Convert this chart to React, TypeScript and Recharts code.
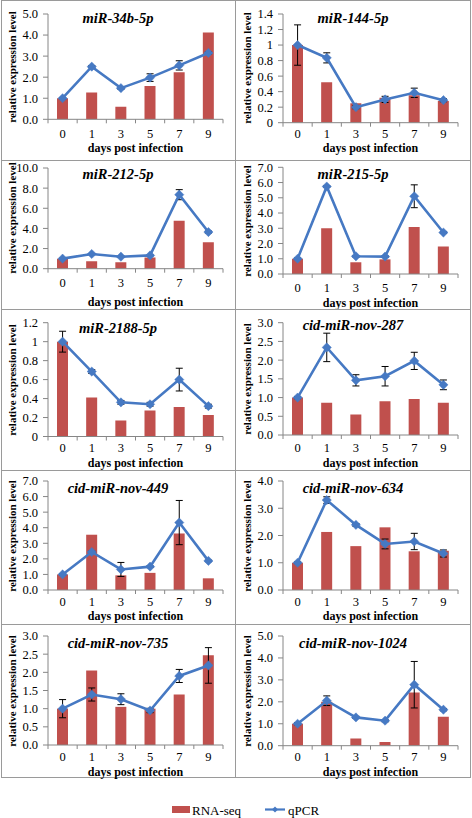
import React from 'react';
import { ComposedChart, Bar, Line, XAxis, YAxis, ErrorBar } from 'recharts';

// ---------- data ----------
const days = ['0', '1', '3', '5', '7', '9'];

const miR34bRnaSeq = [1.0, 1.27, 0.6, 1.58, 2.24, 4.12];
const miR34bQpcr = [1.0, 2.5, 1.48, 1.98, 2.56, 3.15];
const miR34bErr = [0.03, 0.05, 0.05, 0.18, 0.22, 0.05];
const miR34bTicks = [0, 1, 2, 3, 4, 5];

const miR144RnaSeq = [1.0, 0.52, 0.25, 0.32, 0.355, 0.28];
const miR144Qpcr = [1.0, 0.835, 0.2, 0.3, 0.385, 0.29];
const miR144Err = [0.26, 0.065, 0.02, 0.04, 0.06, 0.02];
const miR144Ticks = [0, 0.2, 0.4, 0.6, 0.8, 1, 1.2, 1.4];

const miR212RnaSeq = [1.0, 0.75, 0.63, 1.1, 4.77, 2.62];
const miR212Qpcr = [1.0, 1.46, 1.19, 1.32, 7.35, 3.64];
const miR212Err = [0.05, 0.05, 0.05, 0.05, 0.5, 0.1];
const miR212Ticks = [0, 2, 4, 6, 8, 10];

const miR215RnaSeq = [1.0, 3.0, 0.77, 0.96, 3.08, 1.8];
const miR215Qpcr = [1.0, 5.74, 1.16, 1.14, 5.1, 2.72];
const miR215Err = [0.05, 0.05, 0.05, 0.05, 0.75, 0.05];
const miR215Ticks = [0, 1, 2, 3, 4, 5, 6, 7];

const miR2188RnaSeq = [1.0, 0.41, 0.17, 0.275, 0.31, 0.226];
const miR2188Qpcr = [1.0, 0.685, 0.36, 0.34, 0.6, 0.32];
const miR2188Err = [0.11, 0.02, 0.02, 0.02, 0.12, 0.02];
const miR2188Ticks = [0, 0.2, 0.4, 0.6, 0.8, 1, 1.2];

const nov287RnaSeq = [1.0, 0.86, 0.55, 0.9, 0.96, 0.86];
const nov287Qpcr = [1.0, 2.34, 1.46, 1.57, 1.98, 1.34];
const nov287Err = [0.03, 0.38, 0.15, 0.26, 0.23, 0.13];
const nov287Ticks = [0, 0.5, 1, 1.5, 2, 2.5, 3];

const nov449RnaSeq = [1.0, 3.55, 0.94, 1.1, 3.63, 0.75];
const nov449Qpcr = [1.0, 2.44, 1.32, 1.5, 4.33, 1.87];
const nov449Err = [0.05, 0.05, 0.45, 0.05, 1.42, 0.05];
const nov449Ticks = [0, 1, 2, 3, 4, 5, 6, 7];

const nov634RnaSeq = [1.0, 2.13, 1.61, 2.3, 1.42, 1.44];
const nov634Qpcr = [1.0, 3.3, 2.39, 1.69, 1.78, 1.34];
const nov634Err = [0.03, 0.12, 0.05, 0.18, 0.3, 0.13];
const nov634Ticks = [0, 1, 2, 3, 4];

const nov735RnaSeq = [1.0, 2.05, 1.05, 1.0, 1.39, 2.47];
const nov735Qpcr = [1.0, 1.39, 1.26, 0.95, 1.9, 2.19];
const nov735Err = [0.25, 0.18, 0.15, 0.06, 0.18, 0.49];
const nov735Ticks = [0, 0.5, 1, 1.5, 2, 2.5, 3];

const nov1024RnaSeq = [1.0, 2.0, 0.33, 0.17, 2.42, 1.32];
const nov1024Qpcr = [1.0, 2.05, 1.29, 1.14, 2.78, 1.64];
const nov1024Err = [0.05, 0.22, 0.05, 0.05, 1.06, 0.05];
const nov1024Ticks = [0, 1, 2, 3, 4, 5];

const seriesNames = ['RNA-seq', 'qPCR'];
const yLabelText = 'relative expression level';
const xLabelText = 'days post infection';

type PanelData = {
  title: string;
  rna: number[];
  qpcr: number[];
  err: number[];
  ticks: number[];
  general: boolean;
};

const panels: PanelData[] = [
  { title: 'miR-34b-5p', rna: miR34bRnaSeq, qpcr: miR34bQpcr, err: miR34bErr, ticks: miR34bTicks, general: false },
  { title: 'miR-144-5p', rna: miR144RnaSeq, qpcr: miR144Qpcr, err: miR144Err, ticks: miR144Ticks, general: true },
  { title: 'miR-212-5p', rna: miR212RnaSeq, qpcr: miR212Qpcr, err: miR212Err, ticks: miR212Ticks, general: false },
  { title: 'miR-215-5p', rna: miR215RnaSeq, qpcr: miR215Qpcr, err: miR215Err, ticks: miR215Ticks, general: false },
  { title: 'miR-2188-5p', rna: miR2188RnaSeq, qpcr: miR2188Qpcr, err: miR2188Err, ticks: miR2188Ticks, general: true },
  { title: 'cid-miR-nov-287', rna: nov287RnaSeq, qpcr: nov287Qpcr, err: nov287Err, ticks: nov287Ticks, general: false },
  { title: 'cid-miR-nov-449', rna: nov449RnaSeq, qpcr: nov449Qpcr, err: nov449Err, ticks: nov449Ticks, general: false },
  { title: 'cid-miR-nov-634', rna: nov634RnaSeq, qpcr: nov634Qpcr, err: nov634Err, ticks: nov634Ticks, general: false },
  { title: 'cid-miR-nov-735', rna: nov735RnaSeq, qpcr: nov735Qpcr, err: nov735Err, ticks: nov735Ticks, general: false },
  { title: 'cid-miR-nov-1024', rna: nov1024RnaSeq, qpcr: nov1024Qpcr, err: nov1024Err, ticks: nov1024Ticks, general: false },
];

// ---------- layout (positions only) ----------
const rowTops = [0, 160, 309, 470, 624, 777];
// per panel: plotTop, zeroY, titleY, xTickY, xLabelY (relative to panel top)
const panelLayout = [
  [14, 119.3, 18, 133.5, 147.5],
  [14, 122.7, 18, 133.5, 147.5],
  [8, 108.7, 14, 122.5, 141.5],
  [7.3, 114, 14, 128, 142.5],
  [13.7, 127.5, 18.7, 139, 153.5],
  [13.7, 126, 16.3, 139, 153.5],
  [11, 120, 17.7, 131.5, 145.5],
  [11, 120, 17.7, 131.5, 145.5],
  [12, 121, 18.7, 132.5, 147.5],
  [12, 121.7, 18.7, 132.5, 147.5],
];

const FONT = "'Liberation Serif', 'Times New Roman', Times, serif";
const RED = '#C0504D';
const BLUE = '#4679C3';
const AXIS = '#868686';
const BORDER = '#9a9a9a';

const Diamond = (props: any) => {
  const { cx, cy, index } = props;
  if (cx == null || cy == null) return <g key={`dm-${index}`} />;
  const r = 4.6;
  return (
    <path
      key={`dm-${index}`}
      d={`M${cx},${cy - r}L${cx + r},${cy}L${cx},${cy + r}L${cx - r},${cy}Z`}
      fill={BLUE}
      stroke={BLUE}
      strokeWidth={0.5}
    />
  );
};

function Panel({ idx }: { idx: number }) {
  const p = panels[idx];
  const [plotTop, zeroY, titleY, xTickY, xLabelY] = panelLayout[idx];
  const col = idx % 2;
  const row = Math.floor(idx / 2);
  const left = col === 0 ? 1 : 235;
  const width = col === 0 ? 235 : 236;
  const top = rowTops[row];
  const height = rowTops[row + 1] - rowTops[row] + 1;
  const yAxisW = col === 0 ? 47 : 48;
  const rightM = 13;
  const plotW = width - yAxisW - rightM;
  const catW = plotW / days.length;
  const tickMargin = xTickY - zeroY - 4.6;
  const data = days.map((d, i) => ({ day: d, rna: p.rna[i], qpcr: p.qpcr[i], err: p.err[i] }));
  const fmt = (v: number) => (p.general ? String(Number(v.toFixed(1))) : v.toFixed(1));

  const XTick = (tp: any) => {
    const { x, y, payload, index } = tp;
    const axisY = y - tickMargin;
    return (
      <g>
        <text x={x} y={y} dy="0.71em" textAnchor="middle" fill="#000" fontSize={12.5} fontFamily={FONT}>
          {payload.value}
        </text>
        <line x1={x + catW / 2} x2={x + catW / 2} y1={axisY} y2={axisY + 4} stroke={AXIS} />
        {index === 0 ? <line x1={x - catW / 2} x2={x - catW / 2} y1={axisY} y2={axisY + 4} stroke={AXIS} /> : null}
      </g>
    );
  };

  const plotLeft = yAxisW;
  const plotCenterX = plotLeft + plotW / 2;
  const plotCenterY = (plotTop + zeroY) / 2;

  return (
    <div style={{ position: 'absolute', left, top, width, height }}>
      <div
        style={{
          position: 'absolute',
          left: 0,
          top: 0,
          width,
          height,
          boxSizing: 'border-box',
          border: `1px solid ${BORDER}`,
        }}
      />
      <div style={{ position: 'absolute', left: 0, top: 0 }}>
        <ComposedChart
          width={width}
          height={height}
          data={data}
          margin={{ top: plotTop, right: rightM, left: 0, bottom: 0 }}
          barSize={11}
        >
          <XAxis
            dataKey="day"
            type="category"
            height={height - zeroY}
            axisLine={{ stroke: AXIS }}
            tickLine={false}
            tickSize={0}
            tickMargin={tickMargin}
            tick={XTick}
            interval={0}
          />
          <YAxis
            width={yAxisW}
            domain={[0, p.ticks[p.ticks.length - 1]]}
            ticks={p.ticks}
            tickFormatter={fmt}
            axisLine={{ stroke: AXIS }}
            tickLine={{ stroke: AXIS }}
            tickSize={5}
            tickMargin={5}
            tick={{ fill: '#000', fontSize: 12.5, fontFamily: FONT }}
            interval={0}
            allowDataOverflow
          />
          <Bar dataKey="rna" name={seriesNames[0]} fill={RED} isAnimationActive={false} />
          <Line
            dataKey="qpcr"
            name={seriesNames[1]}
            stroke={BLUE}
            strokeWidth={2.6}
            dot={Diamond}
            activeDot={false}
            isAnimationActive={false}
          >
            <ErrorBar dataKey="err" width={3.5} stroke="#000" strokeWidth={1} />
          </Line>
        </ComposedChart>
      </div>
      <div
        style={{
          position: 'absolute',
          left: plotLeft + 70,
          top: titleY,
          transform: 'translate(-50%, -50%)',
          fontFamily: FONT,
          fontWeight: 'bold',
          fontStyle: 'italic',
          fontSize: 14.5,
          whiteSpace: 'nowrap',
          lineHeight: 1,
        }}
      >
        {p.title}
      </div>
      <div
        style={{
          position: 'absolute',
          left: plotLeft - 36,
          top: plotCenterY,
          transform: 'translate(-50%, -50%) rotate(-90deg)',
          fontFamily: FONT,
          fontWeight: 'bold',
          fontSize: 11,
          whiteSpace: 'nowrap',
          lineHeight: 1,
        }}
      >
        {yLabelText}
      </div>
      <div
        style={{
          position: 'absolute',
          left: plotCenterX,
          top: xLabelY,
          transform: 'translate(-50%, -50%)',
          fontFamily: FONT,
          fontWeight: 'bold',
          fontSize: 12,
          whiteSpace: 'nowrap',
          lineHeight: 1,
        }}
      >
        {xLabelText}
      </div>
    </div>
  );
}

function LegendRow() {
  return (
    <div style={{ position: 'absolute', left: 0, top: 800, width: 472, height: 18 }}>
      <svg width={472} height={18} style={{ position: 'absolute', left: 0, top: 0 }}>
        <rect x={172} y={6} width={18} height={7} fill={RED} />
        <line x1={265} x2={285} y1={9.5} y2={9.5} stroke={BLUE} strokeWidth={2.2} />
        <path d="M275,6.5L278,9.5L275,12.5L272,9.5Z" fill={BLUE} />
      </svg>
      <div
        style={{
          position: 'absolute',
          left: 192,
          top: 9.5,
          transform: 'translateY(-50%)',
          fontFamily: FONT,
          fontSize: 13,
          lineHeight: 1,
          whiteSpace: 'nowrap',
        }}
      >
        {seriesNames[0]}
      </div>
      <div
        style={{
          position: 'absolute',
          left: 288,
          top: 9.5,
          transform: 'translateY(-50%)',
          fontFamily: FONT,
          fontSize: 13,
          lineHeight: 1,
          whiteSpace: 'nowrap',
        }}
      >
        {seriesNames[1]}
      </div>
    </div>
  );
}

export default function App() {
  return (
    <div
      style={{
        position: 'absolute',
        left: 0,
        top: 0,
        width: 472,
        height: 818,
        background: '#fff',
        overflow: 'hidden',
        fontFamily: FONT,
      }}
    >
      {panels.map((_, i) => (
        <Panel key={i} idx={i} />
      ))}
      <LegendRow />
    </div>
  );
}
